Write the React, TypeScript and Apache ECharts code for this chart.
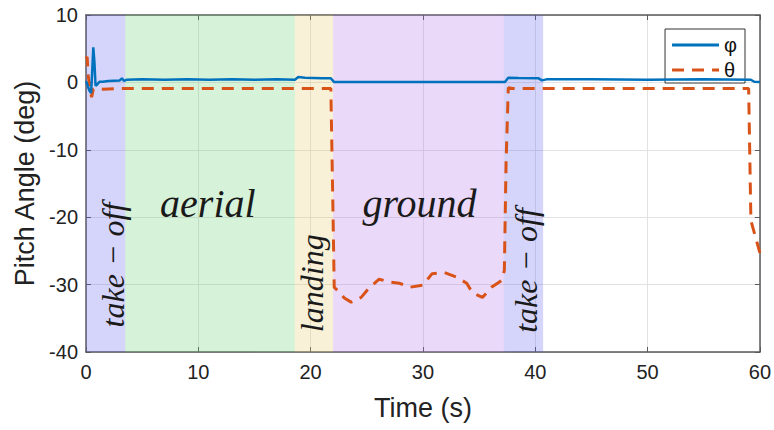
import React, { useEffect, useRef } from 'react';
import * as echarts from 'echarts';

// phi (blue, solid)
const phiTime = [0, 0.15, 0.3, 0.45, 0.55, 0.65, 0.75, 0.85, 1.0, 1.2, 1.5, 2.0, 2.5, 3.0, 3.2, 3.4, 3.6, 5, 7, 9, 11, 13, 15, 17, 18.6, 18.9, 19.5, 21, 21.8, 22.1, 25, 30, 35, 37.3, 37.6, 38.5, 40.3, 40.6, 41, 45, 50, 55, 59.2, 59.5, 60];
const phiValues = [0.2, -0.5, -1.2, -1.6, 1.5, 5.2, 3.0, -0.5, -0.3, 0.1, 0.1, 0.2, 0.25, 0.3, 0.6, 0.2, 0.4, 0.45, 0.4, 0.45, 0.4, 0.45, 0.4, 0.45, 0.4, 0.8, 0.7, 0.6, 0.6, 0.05, 0.05, 0.05, 0.05, 0.05, 0.7, 0.65, 0.6, 0.3, 0.45, 0.45, 0.4, 0.45, 0.4, 0.1, 0.05];

// theta (red, dashed)
const thetaTime = [0, 0.1, 0.2, 0.35, 0.5, 0.65, 0.8, 1.5, 3, 10, 18, 21.8, 22.0, 22.1, 22.5, 23.0, 23.6, 24.5, 25.2, 26.1, 27.0, 27.9, 28.8, 30.0, 30.8, 31.9, 33.0, 33.9, 34.4, 35.3, 36.1, 37.0, 37.25, 37.4, 37.6, 38, 45, 59.0, 59.2, 60];
const thetaValues = [3.5, 3.8, 1.0, -1.0, -2.2, -1.0, -0.9, -1.0, -0.9, -0.9, -0.9, -0.9, -20, -30.4, -31, -32, -32.6, -31.9, -30.5, -29.2, -29.6, -29.8, -30.4, -30.1, -28.4, -28.2, -28.9, -29.8, -31.2, -31.9, -30.4, -29.4, -27.9, -12, -0.8, -0.9, -0.9, -0.9, -20.5, -25.3];

// flight phases
const phaseNames = ['take − off', 'aerial', 'landing', 'ground', 'take − off'];
const phaseStart = [0, 3.5, 18.6, 22.0, 37.2];
const phaseEnd = [3.5, 18.6, 22.0, 37.2, 40.7];
const phaseColors = ['rgba(87,87,239,0.25)', 'rgba(91,207,103,0.25)', 'rgba(227,195,95,0.25)', 'rgba(171,103,231,0.25)', 'rgba(87,87,239,0.25)'];
// label anchor (data coords) and orientation
const labelTime = [2.4, 10.85, 20.1, 29.7, 39.2];
const labelValue = [-27.1, -17.9, -29.8, -17.9, -27.9];
const labelVertical = [true, false, true, false, true];

const xTicks = [0, 10, 20, 30, 40, 50, 60];
const yTicks = [-40, -30, -20, -10, 0, 10];

const SANS = '"Liberation Sans", Arial, sans-serif';
const SERIF = '"Liberation Serif", "DejaVu Serif", serif';
const AXIS_COLOR = '#5a5a5a';

const SOLID_ICON = 'path://M0,0h47v3h-47z';
const DASHED_ICON = 'path://M0,0h12v3h-12zM20,0h12v3h-12zM40,0h7v3h-7z';

export default function App() {
  const ref = useRef<HTMLDivElement>(null);
  useEffect(() => {
    const chart = echarts.init(ref.current!, null, { renderer: 'svg' });
    const phiData = phiTime.map((t, i) => [t, phiValues[i]]);
    const thetaData = thetaTime.map((t, i) => [t, thetaValues[i]]);
    const axisCommon = {
      axisLine: { show: true, onZero: false, lineStyle: { color: AXIS_COLOR, width: 1.5 } },
      axisTick: { show: true, inside: true, length: 5, lineStyle: { color: AXIS_COLOR, width: 1 } },
    };
    chart.setOption({
      animation: false,
      backgroundColor: '#ffffff',
      grid: { left: 86, right: 13, top: 15, bottom: 78, containLabel: false },
      legend: {
        data: [
          { name: 'φ', icon: SOLID_ICON },
          { name: 'θ', icon: DASHED_ICON },
        ],
        orient: 'vertical',
        right: 29,
        top: 29,
        itemWidth: 47,
        itemHeight: 14,
        itemGap: 5,
        padding: [6, 8, 3, 7],
        borderColor: '#333',
        borderWidth: 1,
        backgroundColor: '#fff',
        textStyle: { fontFamily: SANS, fontSize: 20, color: '#111' },
      },
      xAxis: [
        {
          type: 'value', min: xTicks[0], max: xTicks[xTicks.length - 1], interval: 10,
          name: 'Time (s)', nameLocation: 'middle', nameGap: 42,
          nameTextStyle: { fontFamily: SANS, fontSize: 27, color: '#222' },
          axisLabel: { fontFamily: SANS, fontSize: 20, color: '#222', margin: 10 },
          splitLine: { show: true, lineStyle: { color: '#e2e2e2', width: 1 } },
          ...axisCommon,
        },
        {
          type: 'value', position: 'top', min: xTicks[0], max: xTicks[xTicks.length - 1], interval: 10,
          axisLabel: { show: false }, splitLine: { show: false },
          ...axisCommon,
        },
      ],
      yAxis: [
        {
          type: 'value', min: yTicks[0], max: yTicks[yTicks.length - 1], interval: 10,
          name: 'Pitch Angle (deg)', nameLocation: 'middle', nameGap: 42,
          nameTextStyle: { fontFamily: SANS, fontSize: 27, color: '#222' },
          axisLabel: { fontFamily: SANS, fontSize: 20, color: '#222', margin: 8 },
          splitLine: { show: true, lineStyle: { color: '#e2e2e2', width: 1 } },
          ...axisCommon,
        },
        {
          type: 'value', position: 'right', min: yTicks[0], max: yTicks[yTicks.length - 1], interval: 10,
          axisLabel: { show: false }, splitLine: { show: false },
          ...axisCommon,
        },
      ],
      series: [
        {
          name: 'phases', type: 'line', data: [], z: 1, silent: true,
          markArea: {
            silent: true,
            data: phaseStart.map((s, i) => [
              { xAxis: s, yAxis: yTicks[0], itemStyle: { color: phaseColors[i] } },
              { xAxis: phaseEnd[i], yAxis: yTicks[yTicks.length - 1] },
            ]),
          },
        },
        {
          name: 'φ', type: 'line', data: phiData, symbol: 'none', z: 4,
          lineStyle: { color: '#0072BD', width: 2.5 }, itemStyle: { color: '#0072BD' },
        },
        {
          name: 'θ', type: 'line', data: thetaData, symbol: 'none', z: 3,
          lineStyle: { color: '#D95319', width: 3, type: [12, 8] }, itemStyle: { color: '#D95319' },
        },
      ],
    });
    const graphic = phaseNames.map((name, i) => {
      const [px, py] = chart.convertToPixel({ gridIndex: 0 }, [labelTime[i], labelValue[i]]);
      return {
        type: 'text',
        x: px,
        y: py,
        rotation: labelVertical[i] ? Math.PI / 2 : 0,
        silent: true,
        z: 10,
        style: {
          text: name,
          fontFamily: SERIF,
          fontStyle: 'italic',
          fontSize: labelVertical[i] ? 32 : 40,
          fill: '#1a1a1a',
          textAlign: 'center',
          textVerticalAlign: 'middle',
        },
      };
    });
    chart.setOption({ graphic });
    return () => chart.dispose();
  }, []);
  return <div ref={ref} style={{ position: 'fixed', left: 0, top: 0, width: 774, height: 430 }} />;
}
